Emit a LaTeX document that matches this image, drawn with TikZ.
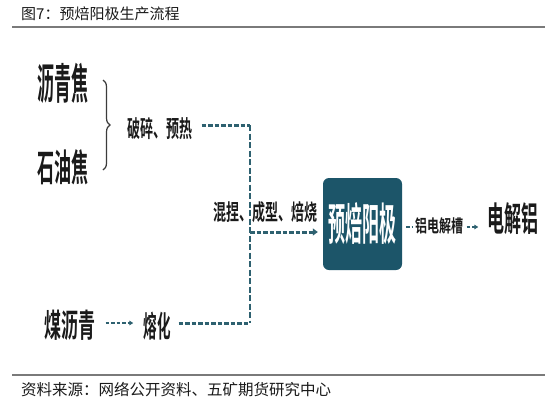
\documentclass[tikz,border=0pt]{standalone}
\usepackage{fontspec}
\newfontfamily\cjk{Noto Sans CJK SC}
\newfontfamily\cjkb{Noto Sans CJK SC Bold}
\usetikzlibrary{arrows.meta,decorations.pathreplacing}
\definecolor{teal1}{HTML}{2E6170}
\definecolor{boxc}{HTML}{1C5569}
\definecolor{ink}{HTML}{1A1A1A}
\definecolor{rulec}{HTML}{7A7A7A}
\newcommand{\stt}[3]{\scalebox{1}[#2]{\fontsize{#1}{#1}\selectfont #3}}
\tikzset{
  lbl/.style={inner sep=0pt, text=ink, font=\cjkb},
  dsh/.style={draw=teal1, line width=3pt, dash pattern=on 4.5pt off 2pt},
  dshv/.style={draw=teal1, line width=1.6pt, dash pattern=on 6pt off 2.5pt},
  dshthin/.style={draw=teal1, line width=1.6pt, dash pattern=on 3.5pt off 2pt},
  rulel/.style={draw=rulec, line width=1.3pt},
}
\begin{document}
\begin{tikzpicture}[x=1pt,y=-1pt]
\useasboundingbox (0,0) rectangle (551,405);
\fill[white] (0,0) rectangle (551,405);
% title and rules
\node[anchor=west, inner sep=0pt, text=ink, font=\cjk] (title) at (21,14) {\fontsize{15}{15}\selectfont 图7：预焙阳极生产流程};
\coordinate (r1a) at (12,27); \coordinate (r1b) at (545,27);
\draw[rulel] (r1a) -- (r1b);
\coordinate (r2a) at (12,375); \coordinate (r2b) at (545,375);
\draw[rulel] (r2a) -- (r2b);
\node[anchor=west, inner sep=0pt, text=ink, font=\cjk] (src) at (21,390) {\fontsize{15.5}{15.5}\selectfont 资料来源：网络公开资料、五矿期货研究中心};
% left materials
\node[lbl] (lqj) at (63,83) {\stt{17}{2.5}{沥青焦}};
\node[lbl] (syj) at (63,167) {\stt{17}{2.2}{石油焦}};
\coordinate (bt) at (103,80); \coordinate (bb) at (103,170);
\draw[ink!85, line width=1.2pt, decorate, decoration={brace, amplitude=7pt}] (bt) -- (bb);
\node[lbl] (psyr) at (160,129) {\stt{13}{1.8}{破碎、预热}};
\node[lbl] (mlq) at (70,325) {\stt{17}{1.9}{煤沥青}};
\node[lbl] (rh) at (157,326) {\stt{13.5}{2.2}{熔化}};
% junction
\coordinate (c1) at (250,125);
\coordinate (c2) at (250,323);
\coordinate (c3) at (250,232);
\draw[dsh] ([xshift=9pt]psyr.east |- c1) -- (c1);
\draw[dsh] ([xshift=8pt]rh.east |- c2) -- (c2);
\draw[dshv] (c1) -- (c2);
\draw[dshthin, -{Triangle[length=4pt,width=4.5pt]}, shorten <=10pt, shorten >=10pt] (mlq.east |- c2) -- (rh.west |- c2);
\node[lbl] (hn) at (265,212) {\stt{13}{1.7}{混捏、成型、焙烧}};
% box
\node[draw=none, fill=boxc, rounded corners=6pt, minimum width=79pt, minimum height=92pt, inner sep=0pt, text=white, font=\cjkb] (box) at (362.5,224) {\stt{17}{2.6}{预焙阳极}};
\draw[dsh, -{Triangle[length=5pt,width=7pt]}, shorten >=5pt] (c3) -- (box.west |- c3);
% right
\node[lbl] (dlj) at (513,219) {\stt{17}{2.0}{电解铝}};
\coordinate (c4) at (402,227);
\draw[dshthin, -{Triangle[length=4pt,width=4.5pt]}, shorten <=4pt, shorten >=9pt] (c4) -- (dlj.west |- c4);
\node[lbl, fill=white, inner xsep=2pt, inner ysep=1pt] (ldjc) at (439,226) {\stt{12}{1.45}{铝电解槽}};
\end{tikzpicture}
\end{document}
